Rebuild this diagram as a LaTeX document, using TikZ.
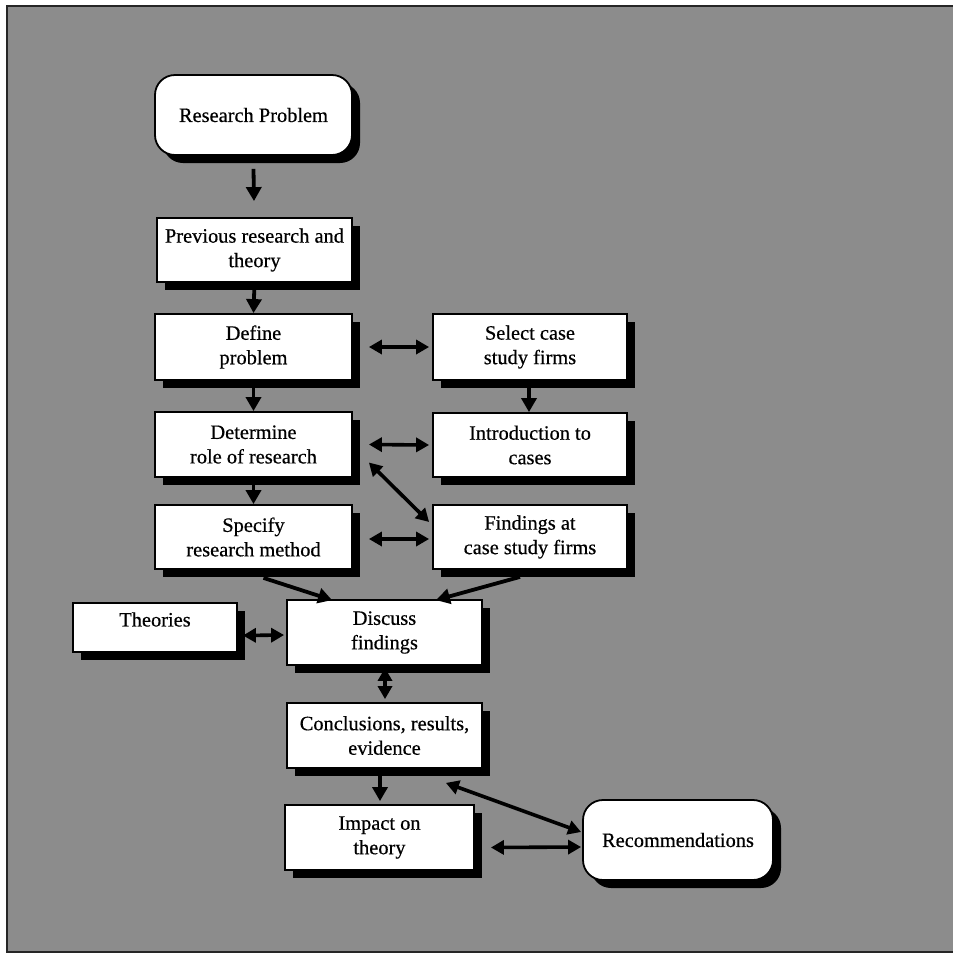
\documentclass[tikz,border=0pt]{standalone}
\usepackage{fontspec}
\setmainfont{Liberation Serif}[FakeBold=0.5]
\usetikzlibrary{arrows.meta,shadows,calc}
\begin{document}
\begin{tikzpicture}[x=1pt,y=-1pt,
  stepbox/.style={draw=black, fill=white, line width=1.8pt, inner sep=0pt,
    align=center, font=\fontsize{20.4}{24.5}\selectfont,
    drop shadow={shadow xshift=8pt, shadow yshift=-8pt, opacity=1, fill=black}},
  roundbox/.style={stepbox, rounded corners=20pt},
  flow/.style={line width=3.8pt, -{Triangle[length=14pt,width=15pt]}},
  both/.style={line width=3.6pt, {Triangle[length=13pt,width=14pt]}-{Triangle[length=13pt,width=14pt]}}]

% page and grey panel
\useasboundingbox (0,0) rectangle (953,954);
\fill[white] (0,0) rectangle (953,954);
\fill[black!45] (7,6) rectangle (960,952);
\draw[line width=2pt, black!85] (960,6) -- (7,6) -- (7,952) -- (960,952);

% boxes
\node[roundbox, minimum width=197pt, minimum height=80pt] (rp) at (253.5,115) {Research Problem};
\node[stepbox, minimum width=195pt, minimum height=64pt] (prev) at (254.5,250) {Previous research and\\theory};
\node[stepbox, minimum width=197pt, minimum height=66pt] (def) at (253.5,347) {Define\\problem};
\node[stepbox, minimum width=194pt, minimum height=66pt] (sel) at (530,347) {Select case\\study firms};
\node[stepbox, minimum width=197pt, minimum height=65pt] (det) at (253.5,444.5) {Determine\\role of research};
\node[stepbox, minimum width=194pt, minimum height=64pt] (intro) at (530,445) {Introduction to\\cases};
\node[stepbox, minimum width=197pt, minimum height=64pt] (spec) at (253.5,537) {Specify\\research method};
\node[stepbox, minimum width=194pt, minimum height=64pt] (fin) at (530,537) {Findings at\\case study firms};
\node[stepbox, minimum width=164pt, minimum height=49pt] (theo) at (155,627.5) {\raisebox{8pt}[\height][\depth]{Theories}};
\node[stepbox, minimum width=195pt, minimum height=65pt] (disc) at (384.5,632.5) {Discuss\\findings};
\node[stepbox, minimum width=195pt, minimum height=65pt] (conc) at (384.5,735.5) {Conclusions, results,\\evidence};
\node[stepbox, minimum width=189pt, minimum height=65pt] (imp) at (379.5,837.5) {Impact on\\theory};
\node[roundbox, minimum width=190pt, minimum height=80pt] (rec) at (678,840) {Recommendations};

% main flow
\draw[flow] ($(rp.south)+(0,13)$) -- ($(prev.north)+(-0.5,-16)$);
\draw[flow] (prev.south) -- (def.north);
\draw[flow] (def.south) -- (det.north);
\draw[flow] (det.south) -- (spec.south |- spec.north);
\draw[flow] ($(sel.south)+(-1,0)$) -- ($(intro.north)+(-1,0)$);

% two-way links between the columns
\draw[both] ($(def.east)+(16,0)$) -- ($(sel.west)+(-3,0)$);
\draw[both] ($(det.east)+(16,0)$) -- ($(intro.west)+(-3,0)$);
\draw[both] ($(det.east)+(16,18)$) -- ($(fin.west)+(-3,-15)$);
\draw[both] ($(spec.east)+(16,2)$) -- ($(fin.west)+(-3,2)$);

% into the discussion
\draw[flow] ($(spec.south)+(10,8)$) -- ($(disc.north west)+(46,1)$);
\draw[flow] ($(fin.south)+(-10,7)$) -- ($(disc.north east)+(-47,1)$);
\draw[both] ($(theo.east)+(5,8)$) -- ($(disc.west)+(-2,2.5)$);
\draw[both] ($(disc.south)+(0.5,2)$) -- ($(conc.north)+(0.5,-3)$);
\draw[flow] ($(conc.south)+(-4.5,0)$) -- ($(imp.north)+(0.5,-3)$);

% recommendations
\draw[both] ($(conc.south east)+(-37,14)$) -- ($(rec.west)+(-1,-8)$);
\draw[both] ($(imp.east)+(16,10)$) -- ($(rec.west)+(-1,7)$);
\end{tikzpicture}
\end{document}
